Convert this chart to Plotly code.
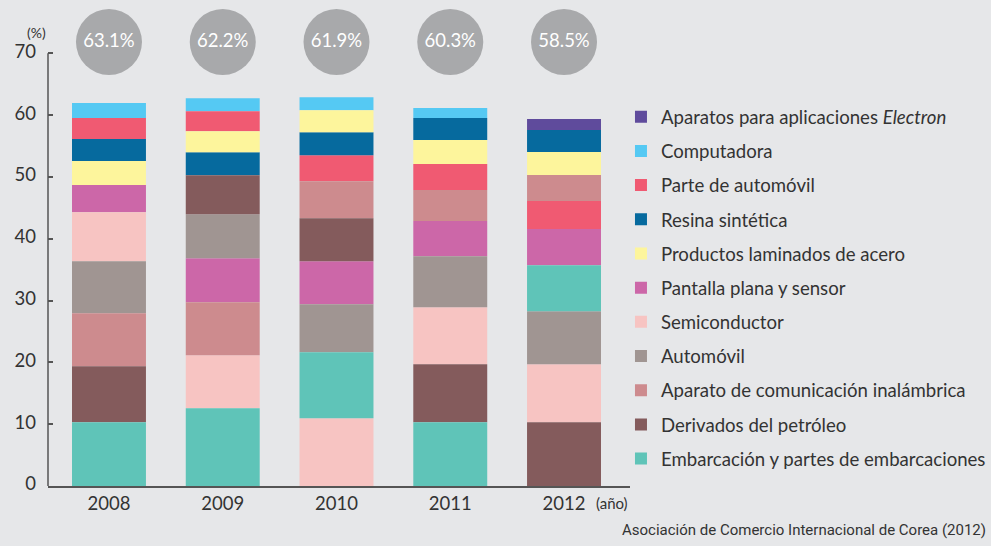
import plotly.graph_objects as go

# años y porcentaje total de las 10 principales exportaciones
anios = ['2008', '2009', '2010', '2011', '2012']
totales = ['63.1%', '62.2%', '61.9%', '60.3%', '58.5%']

# valores por categoría (%), uno por año
electron = [0, 0, 0, 0, 1.78]
computadora = [2.43, 2.10, 2.10, 1.62, 0]
parte_auto = [3.40, 3.24, 4.21, 4.21, 4.53]
resina = [3.56, 3.72, 3.72, 3.56, 3.56]
laminados = [3.89, 3.40, 3.56, 3.89, 3.72]
pantalla = [4.37, 7.12, 6.96, 5.67, 5.83]
semiconductor = [7.93, 8.58, 10.96, 9.23, 9.39]
automovil = [8.42, 7.12, 7.77, 8.26, 8.58]
comunicacion = [8.58, 8.58, 5.99, 5.02, 4.21]
petroleo = [9.07, 6.31, 6.96, 9.39, 10.31]
embarcacion = [10.31, 12.57, 10.68, 10.31, 7.45]

# orden de apilado (de abajo hacia arriba) en cada año
orden = {
    '2008': ['emb', 'pet', 'com', 'aut', 'sem', 'pan', 'lam', 'res', 'par', 'cpu'],
    '2009': ['emb', 'sem', 'com', 'pan', 'aut', 'pet', 'res', 'lam', 'par', 'cpu'],
    '2010': ['sem', 'emb', 'aut', 'pan', 'pet', 'com', 'par', 'res', 'lam', 'cpu'],
    '2011': ['emb', 'pet', 'sem', 'aut', 'pan', 'com', 'par', 'lam', 'res', 'cpu'],
    '2012': ['pet', 'sem', 'aut', 'emb', 'pan', 'par', 'com', 'lam', 'res', 'ele'],
}

# leyenda de arriba hacia abajo
series = [
    ('ele', 'Aparatos para aplicaciones <i>Electron</i>', electron, '#5f4b9c'),
    ('cpu', 'Computadora', computadora, '#55c9f3'),
    ('par', 'Parte de automóvil', parte_auto, '#f05a72'),
    ('res', 'Resina sintética', resina, '#066a9e'),
    ('lam', 'Productos laminados de acero', laminados, '#fdf59c'),
    ('pan', 'Pantalla plana y sensor', pantalla, '#cc67a8'),
    ('sem', 'Semiconductor', semiconductor, '#f7c4c2'),
    ('aut', 'Automóvil', automovil, '#a09592'),
    ('com', 'Aparato de comunicación inalámbrica', comunicacion, '#cd8b8e'),
    ('pet', 'Derivados del petróleo', petroleo, '#845b5c'),
    ('emb', 'Embarcación y partes de embarcaciones', embarcacion, '#5fc4b8'),
]

valores = {k: v for k, _, v, _ in series}

# base de cada segmento segun el orden de cada año
bases = {k: [0] * len(anios) for k in valores}
for i, a in enumerate(anios):
    acum = 0
    for k in orden[a]:
        bases[k][i] = acum
        acum += valores[k][i]

fondo = '#e6e7e9'
fuente = 'Lato, Noto Sans, sans-serif'

fig = go.Figure()

for k, nombre, vals, color in series:
    fig.add_trace(go.Bar(
        x=anios, y=vals, base=bases[k], name=nombre,
        marker=dict(color=color, line=dict(width=0)),
        width=0.65, legendgroup=k, hoverinfo='name+y',
    ))

# circulos con el total
fig.add_trace(go.Scatter(
    x=anios, y=[71.83] * len(anios), mode='markers+text',
    marker=dict(size=66, color='#a8a9ab', line=dict(width=0)),
    text=totales, textposition='middle center',
    textfont=dict(color='white', size=18.5, family=fuente),
    showlegend=False, hoverinfo='skip',
))

fig.update_layout(
    width=991, height=546, autosize=False,
    barmode='overlay',
    paper_bgcolor=fondo, plot_bgcolor=fondo,
    margin=dict(l=48, r=361, t=0, b=60.3),
    font=dict(family=fuente, color='#333333'),
    legend=dict(
        x=0.9845, xanchor='left', y=0.798, yanchor='top',
        traceorder='grouped', tracegroupgap=7,
        font=dict(size=18.6, color='#333333'),
        bgcolor='rgba(0,0,0,0)',
    ),
    xaxis=dict(
        range=[-0.536, 4.58], showline=True, linecolor='#555555', linewidth=1.5,
        ticks='', tickfont=dict(size=18.5), showgrid=False, zeroline=False,
    ),
    yaxis=dict(
        range=[0, 78.63], tick0=0, dtick=10, showline=False,
        ticks='inside', ticklen=5, tickcolor='#555555', tickwidth=1.5,
        tickfont=dict(size=18.5), ticklabelstandoff=11, ticklabelshift=-2,
        showgrid=False, zeroline=False,
    ),
    shapes=[
        # eje y solo hasta 70
        dict(type='line', xref='paper', yref='y', x0=0, x1=0, y0=0, y1=70,
             line=dict(color='#555555', width=1.5)),
    ],
    annotations=[
        dict(text='(%)', x=-0.04, y=73.4, xref='paper', yref='y',
             showarrow=False, font=dict(size=14)),
        dict(text='(año)', x=4.58, y=0, xref='x', yref='paper', xanchor='right',
             yanchor='top', yshift=-6, showarrow=False, font=dict(size=15)),
        dict(text='Asociación de Comercio Internacional de Corea (2012)',
             x=1.615, y=-0.091, xref='paper', yref='paper', xanchor='right',
             yanchor='middle', showarrow=False,
             font=dict(size=15, family='Liberation Sans Narrow, Roboto, sans-serif')),
    ],
)

fig.write_html('out.html', config={'displayModeBar': False}, post_script=(
    "document.body.style.margin='0';"
    "document.body.style.background='" + fondo + "';"
))
